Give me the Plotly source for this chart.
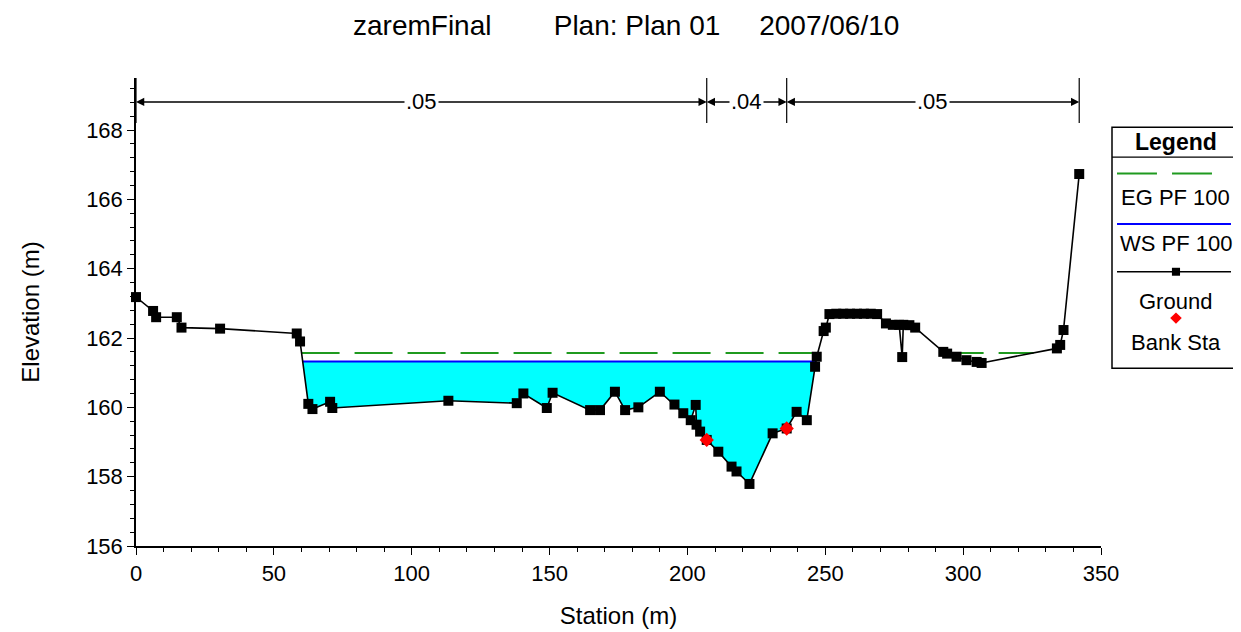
import numpy as np
import plotly.graph_objects as go

title_text = "zaremFinal        Plan: Plan 01     2007/06/10"

station = [0.0, 6.2, 7.3, 14.8, 16.5, 30.5, 58.3, 59.5, 62.5, 64.0, 70.4, 71.2,
           113.3, 138.1, 140.5, 149.0, 151.1, 164.7, 168.3, 173.7, 177.4, 182.2,
           190.0, 195.3, 198.5, 201.2, 203.0, 203.3, 204.6, 207.0, 211.2, 216.0,
           217.8, 222.5, 230.9, 236.0, 239.6, 243.3, 246.3, 246.9, 249.4, 250.2,
           251.5, 254.0, 256.5, 259.0, 261.5, 264.0, 266.5, 268.8, 272.0, 274.5,
           276.8, 277.9, 278.3, 280.5, 282.6, 292.8, 294.2, 297.6, 301.2, 304.9,
           306.7, 334.0, 335.2, 336.4, 342.1]
elevation = [163.18, 162.78, 162.60, 162.60, 162.30, 162.27, 162.13, 161.90, 160.10, 159.95, 160.16, 159.98,
             160.19, 160.12, 160.40, 159.98, 160.42, 159.92, 159.92, 160.45, 159.92, 160.00,
             160.45, 160.08, 159.83, 159.63, 160.07, 159.50, 159.30, 159.06, 158.72, 158.29,
             158.15, 157.79, 159.25, 159.39, 159.87, 159.63, 161.17, 161.46, 162.20, 162.30,
             162.69, 162.70, 162.70, 162.70, 162.70, 162.70, 162.70, 162.69, 162.42, 162.38,
             162.38, 161.45, 162.38, 162.37, 162.30, 161.60, 161.55, 161.46, 161.36, 161.31,
             161.28, 161.70, 161.80, 162.23, 166.73]
bank_sta = [207.0, 236.0]
ws_elev = 161.32
eg_elev = 161.57
n_values = [".05", ".04", ".05"]

x = np.array(station)
z = np.array(elevation)


def wet_regions(level):
    regions = []
    start = None
    for i in range(len(x) - 1):
        z0, z1 = z[i], z[i + 1]
        if (z0 - level) * (z1 - level) < 0:
            xc = x[i] + (level - z0) * (x[i + 1] - x[i]) / (z1 - z0)
            if z1 < level:
                start = xc
            elif start is not None:
                regions.append((start, xc))
                start = None
    return regions


thalweg = x[np.argmin(z)]
ws_regions = [r for r in wet_regions(ws_elev) if r[0] <= thalweg <= r[1]]
eg_regions = [r for r in wet_regions(eg_elev) if r[1] - r[0] > 5]

FONT = "Liberation Sans"
fig = go.Figure()

# water fill
for s, e in ws_regions:
    mask = (x > s) & (x < e)
    px = [s] + list(x[mask]) + [e]
    py = [ws_elev] + list(z[mask]) + [ws_elev]
    fig.add_trace(go.Scatter(x=px, y=py, fill="toself", fillcolor="#00FFFF",
                             line=dict(width=0), mode="lines", hoverinfo="skip"))

# EG line
eg_x, eg_y = [], []
for s, e in eg_regions:
    eg_x += [s, e, None]
    eg_y += [eg_elev, eg_elev, None]
fig.add_trace(go.Scatter(x=eg_x, y=eg_y, mode="lines",
                         line=dict(color="#1f9a1f", width=2, dash="38px,15px")))

# WS line
ws_x, ws_y = [], []
for s, e in ws_regions:
    ws_x += [s, e, None]
    ws_y += [ws_elev, ws_elev, None]
fig.add_trace(go.Scatter(x=ws_x, y=ws_y, mode="lines",
                         line=dict(color="#0000FF", width=2)))

# ground
fig.add_trace(go.Scatter(x=station, y=elevation, mode="lines+markers",
                         line=dict(color="black", width=1.6),
                         marker=dict(symbol="square", size=10, color="black"),
                         cliponaxis=False))

# bank stations
bank_z = list(np.interp(bank_sta, x, z))
fig.add_trace(go.Scatter(x=bank_sta, y=bank_z, mode="markers",
                         marker=dict(symbol="diamond", size=11, color="#FF0000"),
                         cliponaxis=False))

# Manning's n bands
breaks = [x[0]] + bank_sta + [x[-1]]
y_arrow = 168.81
shapes = []
annotations = []
for b in breaks:
    shapes.append(dict(type="line", xref="x", yref="y", x0=b, x1=b, y0=168.2, y1=169.5,
                       line=dict(color="black", width=1.2)))
for i, nv in enumerate(n_values):
    a, b = breaks[i], breaks[i + 1]
    m = (a + b) / 2
    for end in (a, b):
        annotations.append(dict(x=end, y=y_arrow, ax=m, ay=y_arrow, xref="x", yref="y",
                                axref="x", ayref="y", text="", showarrow=True,
                                arrowhead=2, arrowsize=1.1, arrowwidth=1.5,
                                arrowcolor="black", standoff=0, startstandoff=0))
    annotations.append(dict(x=m, y=y_arrow, xref="x", yref="y", text=nv, showarrow=False,
                            bgcolor="white", borderpad=1, xanchor="center", yanchor="middle",
                            font=dict(family=FONT, size=22, color="black")))

# Custom legend box (paper coords)
lx0, lx1 = 1.0114, 1.144
lxc = (lx0 + lx1) / 2
shapes.append(dict(type="rect", xref="paper", yref="paper", x0=lx0, x1=lx1, y0=0.380, y1=0.895,
                   line=dict(color="black", width=1.5), fillcolor="white"))
shapes.append(dict(type="line", xref="paper", yref="paper", x0=lx0, x1=lx1, y0=0.831, y1=0.831,
                   line=dict(color="black", width=1.2)))
shapes.append(dict(type="line", xref="paper", yref="paper", x0=1.0166, x1=1.0580, y0=0.796, y1=0.796,
                   line=dict(color="#1f9a1f", width=2)))
shapes.append(dict(type="line", xref="paper", yref="paper", x0=1.0736, x1=1.1150, y0=0.796, y1=0.796,
                   line=dict(color="#1f9a1f", width=2)))
shapes.append(dict(type="line", xref="paper", yref="paper", x0=1.0166, x1=1.1347, y0=0.688, y1=0.688,
                   line=dict(color="#0000FF", width=2)))
shapes.append(dict(type="line", xref="paper", yref="paper", x0=1.0166, x1=1.1347, y0=0.586, y1=0.586,
                   line=dict(color="black", width=1.5)))
shapes.append(dict(type="rect", xref="paper", yref="paper", x0=lxc - 0.0042, x1=lxc + 0.0042,
                   y0=0.586 - 0.0085, y1=0.586 + 0.0085, line=dict(width=0), fillcolor="black"))
dy, dx = 0.012, 0.006
shapes.append(dict(type="path", xref="paper", yref="paper",
                   path=f"M {lxc},{0.487+dy} L {lxc+dx},0.487 L {lxc},{0.487-dy} L {lxc-dx},0.487 Z",
                   line=dict(width=0), fillcolor="#FF0000"))
legend_font = dict(family=FONT, size=22, color="black")
annotations.append(dict(x=lxc, y=0.863, xref="paper", yref="paper", text="<b>Legend</b>",
                        xanchor="center", yanchor="middle",
                        showarrow=False, font=dict(family=FONT, size=23, color="black")))
for txt, yy in [("EG PF 100", 0.744), ("WS PF 100", 0.647), ("Ground", 0.522), ("Bank Sta", 0.434)]:
    annotations.append(dict(x=lxc, y=yy, xref="paper", yref="paper", text=txt,
                            xanchor="center", yanchor="middle",
                            showarrow=False, font=legend_font))

# title
annotations.append(dict(x=0.508, y=1.0, xref="paper", yref="paper", yshift=53,
                        xanchor="center", yanchor="middle",
                        text=title_text.replace(" ", "&nbsp;"),
                        showarrow=False, font=dict(family=FONT, size=28, color="black")))

tick_font = dict(family=FONT, size=22, color="black")
title_font = dict(family=FONT, size=24, color="black")
fig.update_layout(
    width=1233, height=624,
    margin=dict(l=128, r=140, t=70, b=86, autoexpand=False),
    paper_bgcolor="white", plot_bgcolor="white",
    showlegend=False,
    shapes=shapes, annotations=annotations,
    xaxis=dict(range=[0, 350], dtick=50, tick0=0, showgrid=False, zeroline=False,
               showline=True, linecolor="black", linewidth=1.5, automargin=False,
               ticks="outside", ticklen=7, tickcolor="black", tickwidth=1,
               minor=dict(dtick=10, ticks="outside", ticklen=4, tickcolor="black", showgrid=False),
               tickfont=tick_font,
               title=dict(text="Station (m)", font=title_font, standoff=22)),
    yaxis=dict(range=[156, 169.5], dtick=2, tick0=156, showgrid=False, zeroline=False,
               showline=True, linecolor="black", linewidth=1.5, automargin=False,
               ticks="outside", ticklen=7, tickcolor="black", tickwidth=1,
               minor=dict(dtick=0.4, tick0=156, ticks="outside", ticklen=4, tickcolor="black", showgrid=False),
               tickfont=tick_font,
               title=dict(text="Elevation (m)", font=title_font, standoff=40)),
)

fig.write_html("out.html")
